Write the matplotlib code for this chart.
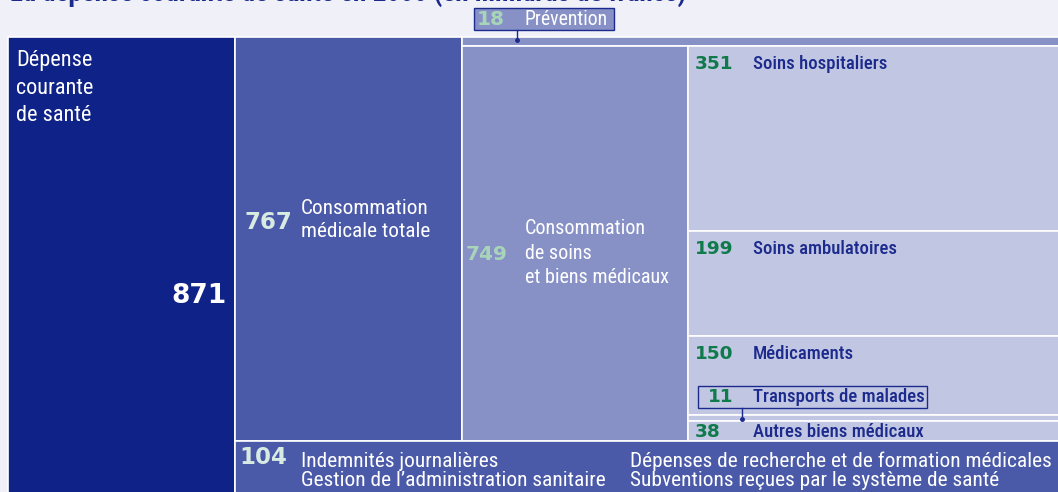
import matplotlib.pyplot as plt
from matplotlib.patches import Rectangle

# values in milliards de francs
total_value = 871
level1_labels = ["Consommation\nmédicale totale", "Indemnités journalières\nGestion de l’administration sanitaire"]
level1_values = [767, 104]
level2_labels = ["Prévention", "Consommation\nde soins\net biens médicaux"]
level2_values = [18, 749]
level3_labels = ["Soins hospitaliers", "Soins ambulatoires", "Médicaments",
                 "Transports de malades", "Autres biens médicaux"]
level3_values = [351, 199, 150, 11, 38]
extra_label = "Dépenses de recherche et de formation médicales\nSubventions reçues par le système de santé"
title = "La dépense courante de santé en 2000 (en milliards de francs)"

# colours
bg = "#f0f1f8"
c_total = "#0f2287"
c_l1 = "#4b5aa8"
c_l2 = "#8791c6"
c_l3 = "#c1c6e2"
navy = "#1b2a8c"
green = "#0f7a4a"
mint = "#a8d5b9"
mint_light = "#d8ebe3"

txt_font = ["Roboto Condensed", "DejaVu Sans"]
num_font = ["DejaVu Sans"]

K = 0.527    # pixels per milliard
TOP = 37     # pixel row where the blocks start
W, H = 1058, 492

fig = plt.figure(figsize=(W / 100, H / 100), dpi=100, facecolor=bg)
ax = fig.add_axes([0, 0, 1, 1])
ax.set_facecolor(bg)
ax.set_xlim(0, W)
ax.set_ylim((H - TOP) / K, -TOP / K)
ax.axis("off")

def px(p):
    # pixel offset -> value units
    return p / K

# column edges (pixels)
cols = [8, 235, 462, 688, 1075]

def block(x0, x1, y0, v, color, z=1):
    r = Rectangle((x0, y0), x1 - x0, v, facecolor=color, edgecolor="white", lw=1.2, zorder=z)
    ax.add_patch(r)
    return r

def number(x, y, s, color, size, z=3):
    ax.text(x, y, s, color=color, fontsize=size, family=num_font, fontweight="bold",
            ha="left", va="center", zorder=z)

# level 0
block(cols[0], cols[1], 0, total_value, c_total)
ax.text(16, px(51), "Dépense\ncourante\nde santé", color="white", fontsize=16, family=txt_font,
        va="center", ha="left", linespacing=1.4)
ax.text(cols[1] - 8, px(259), str(total_value), color="white", fontsize=19,
        family=num_font, fontweight="bold", ha="right", va="center")

# level 1
block(cols[1], cols[2], 0, level1_values[0], c_l1)
number(245, px(185), str(level1_values[0]), mint_light, 16.5)
ax.text(301, px(183), level1_labels[0], color="white", fontsize=15.3, family=txt_font,
        ha="left", va="center", linespacing=1.3)

y_strip = level1_values[0]
block(cols[1], cols[-1], y_strip, level1_values[1], c_l1, z=5)
number(239, y_strip + px(16), str(level1_values[1]), mint_light, 16.5, z=6)
ax.text(301, y_strip + px(30), level1_labels[1], color="white", fontsize=15.4, family=txt_font,
        ha="left", va="center", linespacing=1.0, zorder=6)
ax.text(630, y_strip + px(30), extra_label, color="white", fontsize=15.4, family=txt_font,
        ha="left", va="center", linespacing=1.0, zorder=6)

# level 2
y = 0
for v in level2_values:
    block(cols[2], cols[-1], y, v, c_l2)
    y += v
y_l2 = level2_values[0]
block(cols[2], cols[3], y_l2, level2_values[1], c_l2)
number(466, px(217), str(level2_values[1]), mint, 14.5)
ax.text(525, px(216), level2_labels[1], color="white", fontsize=14.5,
        family=txt_font, ha="left", va="center", linespacing=1.35)

# prévention callout
ax.add_patch(Rectangle((474, px(8 - TOP)), 140, px(22), facecolor=c_l2, edgecolor=navy, lw=1, zorder=4))
number(477, px(19 - TOP), str(level2_values[0]), mint, 14.5, z=5)
ax.text(525, px(19 - TOP), level2_labels[0], color="white", fontsize=14.2, family=txt_font,
        ha="left", va="center", zorder=5)
ax.plot([517, 517], [px(30 - TOP), level2_values[0] * 0.35], color=navy, lw=1, zorder=4)
ax.plot(517, level2_values[0] * 0.35, "o", color=navy, ms=2.5, zorder=4)

# level 3
y = y_l2
tops = []
for v in level3_values:
    block(cols[3], cols[-1], y, v, c_l3)
    tops.append(y)
    y += v

for i, (lab, v) in enumerate(zip(level3_labels, level3_values)):
    if lab.startswith("Transports"):
        continue
    off = 18 if v > 40 else 11
    number(695, tops[i] + px(off), str(v), green, 13.3, z=2)
    ax.text(753, tops[i] + px(off), lab, color=navy, fontsize=13.5, family=txt_font,
            fontweight=500, ha="left", va="center", zorder=2)

# transports callout
it = level3_labels.index("Transports de malades")
yt = tops[it]
ax.add_patch(Rectangle((698, yt - px(29)), 229, px(22), facecolor=c_l3, edgecolor=navy, lw=1, zorder=4))
number(708, yt - px(18), str(level3_values[it]), green, 13.3, z=5)
ax.text(753, yt - px(18), level3_labels[it], color=navy, fontsize=13.5, family=txt_font,
        fontweight=500, ha="left", va="center", zorder=5)
ax.plot([742, 742], [yt - px(7), yt + level3_values[it] * 0.6], color=navy, lw=1, zorder=4)
ax.plot(742, yt + level3_values[it] * 0.6, "o", color=navy, ms=2.5, zorder=4)

# title, cut off at the top edge like the source
ax.text(10, px(2 - TOP), title, color=navy, fontsize=19.5, family=txt_font, fontweight="bold",
        ha="left", va="baseline")

fig.savefig("out.png", dpi=100, facecolor=bg)
